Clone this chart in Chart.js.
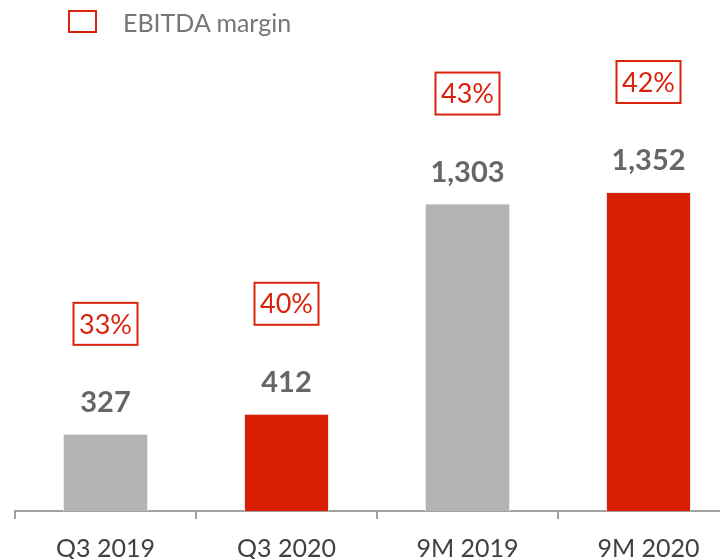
<!DOCTYPE html>
<html>
<head>
<meta charset="utf-8">
<script src="https://cdn.jsdelivr.net/npm/chart.js@4/dist/chart.umd.min.js"></script>
<style>
  body { margin: 0; background: #fff; overflow: hidden; }
  #wrap { position: relative; width: 739px; height: 579px; }
  #legend {
    position: absolute; left: 68px; top: 10px; height: 23px;
    font-family: Lato, 'Open Sans', sans-serif; font-size: 25px; color: #767676;
    display: flex; align-items: center;
  }
  #legend span.box {
    display: inline-block; width: 29px; height: 23px;
    border: 2px solid #d9230f; margin-right: 26px; box-sizing: border-box;
  }
</style>
</head>
<body>
<div id="wrap">
  <div id="legend"><span class="box"></span>EBITDA margin</div>
  <canvas id="ebitdaChart"></canvas>
</div>
<script>
// chart data
const categories = ['Q3 2019', 'Q3 2020', '9M 2019', '9M 2020'];
const ebitda = [327, 412, 1303, 1352];
const marginPct = [33, 40, 43, 42];
const barColors = ['#b3b3b3', '#d91f04', '#b3b3b3', '#d91f04'];

const RED = '#d9230f';

// value labels + margin boxes above each bar
const labelsPlugin = {
    id: 'barLabels',
    afterDatasetsDraw(chart) {
        const ctx = chart.ctx;
        const meta = chart.getDatasetMeta(0);
        meta.data.forEach(function (bar, i) {
            ctx.save();
            ctx.textAlign = 'center';
            ctx.textBaseline = 'middle';

            // value
            ctx.fillStyle = '#666666';
            ctx.font = 'bold 29px Lato, "Open Sans", sans-serif';
            ctx.fillText(ebitda[i].toLocaleString('en-US'), bar.x, bar.y - 31);

            // margin box
            const cy = bar.y - 110;
            const w = 64, h = 42;
            ctx.fillStyle = '#ffffff';
            ctx.fillRect(bar.x - w / 2, cy - h / 2, w, h);
            ctx.strokeStyle = RED;
            ctx.lineWidth = 2;
            ctx.strokeRect(bar.x - w / 2, cy - h / 2, w, h);
            ctx.fillStyle = RED;
            ctx.font = '27px Lato, "Open Sans", sans-serif';
            ctx.fillText(marginPct[i] + '%', bar.x, cy + 1);
            ctx.restore();
        });
    }
};

const ctx = document.getElementById('ebitdaChart').getContext('2d');

new Chart(ctx, {
    type: 'bar',
    data: {
        labels: categories,
        datasets: [{
            label: 'EBITDA',
            data: ebitda,
            backgroundColor: barColors,
            borderColor: '#e6edf0',
            borderWidth: 1,
            barPercentage: 0.47,
            categoryPercentage: 1
        }]
    },
    options: {
        responsive: true,
        maintainAspectRatio: false,
        animation: false,
        layout: {
            padding: { top: 91, left: 15, right: 0, bottom: 0 }
        },
        plugins: {
            legend: { display: false },
            tooltip: { enabled: false }
        },
        scales: {
            y: {
                display: false,
                min: 0,
                max: 1780
            },
            x: {
                border: { display: true, color: '#a0a0a0', width: 2 },
                grid: {
                    display: true,
                    drawOnChartArea: false,
                    drawTicks: true,
                    tickLength: 8,
                    color: '#a0a0a0',
                    lineWidth: 2,
                    offset: true
                },
                ticks: {
                    color: '#404040',
                    padding: 15,
                    font: { size: 25, family: 'Lato' }
                }
            }
        }
    },
    plugins: [labelsPlugin]
});
</script>
</body>
</html>
